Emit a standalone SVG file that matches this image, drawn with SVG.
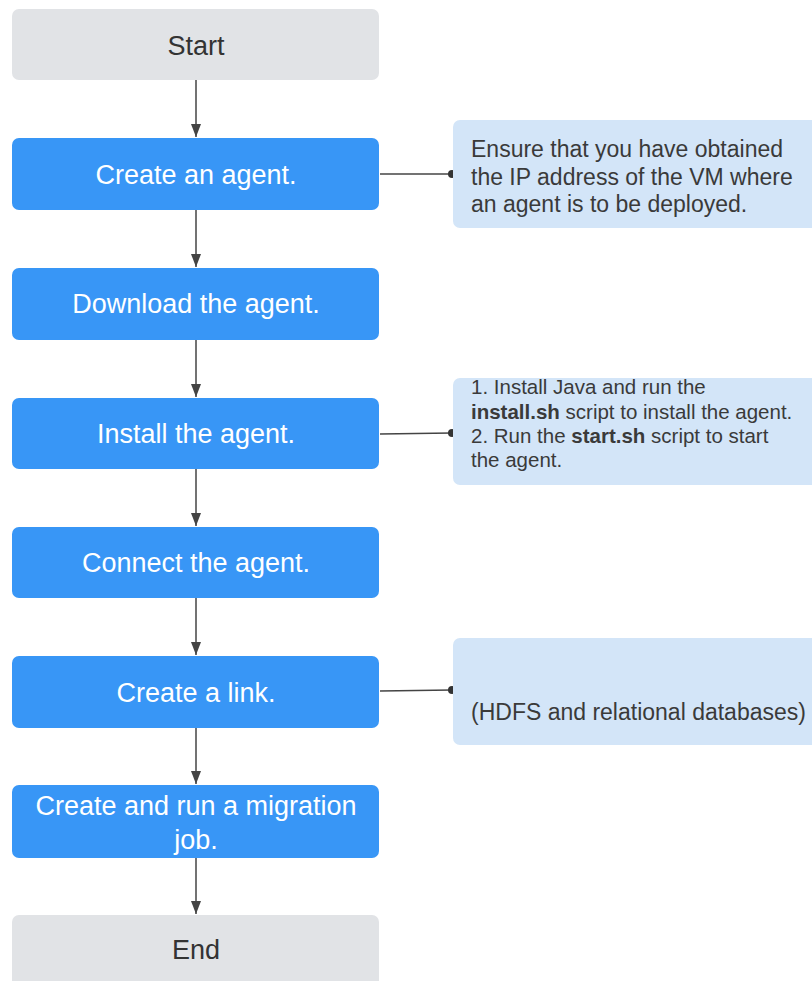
<svg xmlns="http://www.w3.org/2000/svg" width="812" height="981" viewBox="0 0 812 981">
<defs>
<style>
.step{fill:#3896f6}
.term{fill:#e1e3e6}
.note{fill:#d3e5f8}
.st{font-family:"Liberation Sans",Arial,sans-serif;font-size:27px;fill:#ffffff;text-anchor:middle}
.tt{font-family:"Liberation Sans",Arial,sans-serif;font-size:27px;fill:#333333;text-anchor:middle}
.nt{font-family:"Liberation Sans",Arial,sans-serif;fill:#3a3a3a}
.ln{stroke:#444444;stroke-width:1.5;fill:none}
</style>
<marker id="arr" viewBox="0 0 13 10" refX="13" refY="5" markerWidth="13" markerHeight="10" markerUnits="userSpaceOnUse" orient="auto">
<path d="M0,0 L13,5 L0,10 z" fill="#444444"/>
</marker>
</defs>
<rect width="812" height="981" fill="#ffffff"/>
<g id="connectors">
<line class="ln" x1="196" y1="80" x2="196" y2="137" marker-end="url(#arr)"/>
<line class="ln" x1="196" y1="210" x2="196" y2="267" marker-end="url(#arr)"/>
<line class="ln" x1="196" y1="340" x2="196" y2="397" marker-end="url(#arr)"/>
<line class="ln" x1="196" y1="469" x2="196" y2="526" marker-end="url(#arr)"/>
<line class="ln" x1="196" y1="598" x2="196" y2="655" marker-end="url(#arr)"/>
<line class="ln" x1="196" y1="728" x2="196" y2="784" marker-end="url(#arr)"/>
<line class="ln" x1="196" y1="858" x2="196" y2="914" marker-end="url(#arr)"/>
<line class="ln" x1="380" y1="174" x2="452" y2="174"/>
<circle cx="452" cy="174" r="4" fill="#333333"/>
<line class="ln" x1="380" y1="434" x2="452" y2="433"/>
<circle cx="452" cy="433" r="4" fill="#333333"/>
<line class="ln" x1="380" y1="691" x2="452" y2="690"/>
<circle cx="452" cy="690" r="4" fill="#333333"/>
</g>
<g id="start">
<rect class="term" x="12" y="9" width="367" height="71" rx="7"/>
<text class="tt" x="196" y="55">Start</text>
</g>
<g id="create-agent">
<rect class="step" x="12" y="138" width="367" height="72" rx="7"/>
<text class="st" x="196" y="184">Create an agent.</text>
</g>
<g id="download-agent">
<rect class="step" x="12" y="268" width="367" height="72" rx="7"/>
<text class="st" x="196" y="313">Download the agent.</text>
</g>
<g id="install-agent">
<rect class="step" x="12" y="398" width="367" height="71" rx="7"/>
<text class="st" x="196" y="443">Install the agent.</text>
</g>
<g id="connect-agent">
<rect class="step" x="12" y="527" width="367" height="71" rx="7"/>
<text class="st" x="196" y="572">Connect the agent.</text>
</g>
<g id="create-link">
<rect class="step" x="12" y="656" width="367" height="72" rx="7"/>
<text class="st" x="196" y="702">Create a link.</text>
</g>
<g id="migration-job">
<rect class="step" x="12" y="785" width="367" height="73" rx="7"/>
<text class="st" x="196" y="815">Create and run a migration</text>
<text class="st" x="196" y="849">job.</text>
</g>
<g id="end">
<rect class="term" x="12" y="915" width="367" height="80" rx="7"/>
<text class="tt" x="196" y="959">End</text>
</g>
<g id="note-create-agent">
<rect class="note" x="453" y="120" width="370" height="108" rx="7"/>
<text class="nt" font-size="23" x="471" y="157">Ensure that you have obtained</text>
<text class="nt" font-size="23" x="471" y="185">the IP address of the VM where</text>
<text class="nt" font-size="23" x="471" y="212">an agent is to be deployed.</text>
</g>
<g id="note-install-agent">
<rect class="note" x="453" y="378" width="370" height="107" rx="7"/>
<text class="nt" font-size="20.5" x="471" y="394">1. Install Java and run the</text>
<text class="nt" font-size="20.5" x="471" y="419"><tspan font-weight="bold">install.sh</tspan> script to install the agent.</text>
<text class="nt" font-size="20.5" x="471" y="443">2. Run the <tspan font-weight="bold">start.sh</tspan> script to start</text>
<text class="nt" font-size="20.5" x="471" y="467">the agent.</text>
</g>
<g id="note-create-link">
<rect class="note" x="453" y="638" width="370" height="107" rx="7"/>
<text class="nt" font-size="23" x="471" y="720">(HDFS and relational databases)</text>
</g>
</svg>
